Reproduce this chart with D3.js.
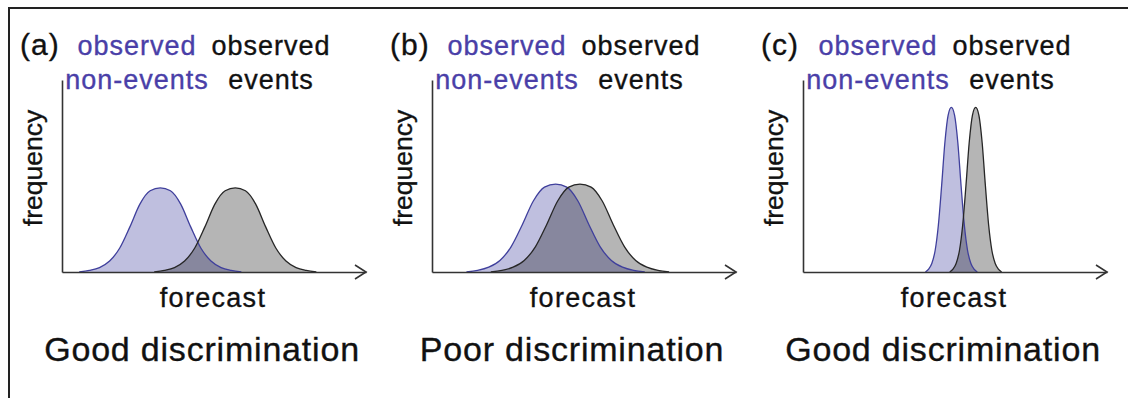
<!DOCTYPE html>
<html>
<head>
<meta charset="utf-8">
<script src="https://cdn.jsdelivr.net/npm/d3@7"></script>
<style>
  body { margin: 0; background: #fff; }
  svg { display: block; }
  text { font-family: "Liberation Sans", Arial, sans-serif; stroke-width: 0.35; }
</style>
</head>
<body>
<div id="chart"></div>
<script>
// panel texts
const panelLabels = ["(a)", "(b)", "(c)"];
const panelTitles = ["Good discrimination", "Poor discrimination", "Good discrimination"];
const nonEventLabel = ["observed", "non-events"];
const eventLabel = ["observed", "events"];
const xLabel = "forecast";
const yLabel = "frequency";

// frequency curves: [forecast, frequency]
const nonEventsA = [[1.7,0],[2.7,0.8],[3.7,2.3],[4.7,5.7],[5.7,12.5],[6.7,23.5],[7.7,35.5],[8.7,42.3],[9.7,43.8],
  [10.7,42.3],[11.7,35.5],[12.7,23.5],[13.7,12.5],[14.7,5.7],[15.7,2.3],[16.7,0.8],[17.7,0]];
const eventsA = [[9.1,0],[10.1,0.8],[11.1,2.3],[12.1,5.7],[13.1,12.5],[14.1,23.5],[15.1,35.5],[16.1,42.3],[17.1,43.8],
  [18.1,42.3],[19.1,35.5],[20.1,23.5],[21.1,12.5],[22.1,5.7],[23.1,2.3],[24.1,0.8],[25.1,0]];
const nonEventsB = [[3.4,0],[4.5,0.8],[5.6,2.5],[6.7,6.0],[7.8,13.1],[8.9,24.5],[10.0,37.0],[11.1,44.2],[12.2,45.8],
  [13.3,44.2],[14.4,37.0],[15.5,24.5],[16.6,13.1],[17.7,6.0],[18.8,2.5],[19.9,0.8],[21.0,0]];
const eventsB = [[5.8,0],[6.9,0.8],[8.0,2.5],[9.1,6.0],[10.2,13.1],[11.3,24.5],[12.4,37.0],[13.5,44.2],[14.6,45.8],
  [15.7,44.2],[16.8,37.0],[17.9,24.5],[19.0,13.1],[20.1,6.0],[21.2,2.5],[22.3,0.8],[23.4,0]];
const nonEventsC = [[12.08,0],[12.40,1.5],[12.72,4.6],[13.04,11.2],[13.36,24.5],[13.68,44.9],[14.00,67.3],[14.32,81.6],[14.64,85.7],
  [14.96,81.6],[15.28,67.3],[15.60,44.9],[15.92,24.5],[16.24,11.2],[16.56,4.6],[16.88,1.5],[17.20,0]];
const eventsC = [[14.48,0],[14.80,1.5],[15.12,4.6],[15.44,11.2],[15.76,24.5],[16.08,44.9],[16.40,67.3],[16.72,81.6],[17.04,85.7],
  [17.36,81.6],[17.68,67.3],[18.00,44.9],[18.32,24.5],[18.64,11.2],[18.96,4.6],[19.28,1.5],[19.60,0]];

const nonEvents = [nonEventsA, nonEventsB, nonEventsC];
const events = [eventsA, eventsB, eventsC];

const width = 1128, height = 398;
const panelX = [62, 432, 803]; // where each y axis sits
const axisTop = 80, axisBase = 272, axisLen = 304;

const blueText = "#4a3fa8";
const darkText = "#111";

const svg = d3.select("#chart").append("svg")
    .attr("width", width)
    .attr("height", height);

// frame round the figure (top and left only are in view)
svg.append("path")
    .attr("d", "M9," + height + "V8H" + width)
    .attr("fill", "none")
    .attr("stroke", "#222")
    .attr("stroke-width", 2);

const x = d3.scaleLinear().domain([0, 30]).range([0, axisLen]);
const y = d3.scaleLinear().domain([0, 100]).range([axisBase - axisTop, 0]);

const area = d3.area()
    .x(d => x(d[0]))
    .y0(y(0))
    .y1(d => y(d[1]))
    .curve(d3.curveMonotoneX);

const line = d3.line()
    .x(d => x(d[0]))
    .y(d => y(d[1]))
    .curve(d3.curveMonotoneX);

panelLabels.forEach(function(label, i) {
    const g = svg.append("g")
        .attr("transform", `translate(${panelX[i]},${axisTop})`);

    // curves: fills first, then outlines
    g.append("path")
        .attr("d", area(nonEvents[i]))
        .attr("fill", "rgba(0,0,128,0.25)");
    g.append("path")
        .attr("d", area(events[i]))
        .attr("fill", "rgba(0,0,0,0.29)");
    g.append("path")
        .attr("d", line(nonEvents[i]))
        .attr("fill", "none")
        .attr("stroke", "#3f3f9c")
        .attr("stroke-width", 1.3);
    g.append("path")
        .attr("d", line(events[i]))
        .attr("fill", "none")
        .attr("stroke", "#262626")
        .attr("stroke-width", 1.3);

    // axes without ticks, just the lines
    const xAxis = g.append("g")
        .attr("transform", `translate(0,${y(0)})`)
        .call(d3.axisBottom(x).tickValues([]).tickSizeOuter(0));
    const yAxis = g.append("g")
        .call(d3.axisLeft(y).tickValues([]).tickSizeOuter(0));
    g.selectAll(".domain")
        .attr("stroke", "#333")
        .attr("stroke-width", 1.6);

    // open arrow head at the end of the forecast axis
    xAxis.append("path")
        .attr("d", `M${axisLen - 11},-7L${axisLen},0L${axisLen - 11},7`)
        .attr("fill", "none")
        .attr("stroke", "#333")
        .attr("stroke-width", 1.6);

    // texts
    g.append("text")
        .attr("x", -42)
        .attr("y", 55 - axisTop)
        .attr("font-size", 30)
        .attr("letter-spacing", 1)
        .attr("fill", darkText)
        .attr("stroke", darkText)
        .text(label);

    [nonEventLabel, eventLabel].forEach(function(lines, k) {
        lines.forEach(function(t, j) {
            g.append("text")
                .attr("x", k == 0 ? 75 : 209)
                .attr("y", (j == 0 ? 54.5 : 89) - axisTop)
                .attr("text-anchor", "middle")
                .attr("font-size", 27)
                .attr("letter-spacing", 1)
                .attr("fill", k == 0 ? blueText : darkText)
                .attr("stroke", k == 0 ? blueText : darkText)
                .text(t);
        });
    });

    g.append("text")
        .attr("transform", `translate(-20,${168 - axisTop}) rotate(-90)`)
        .attr("text-anchor", "middle")
        .attr("font-size", 26.5)
        .attr("fill", darkText)
        .attr("stroke", darkText)
        .text(yLabel);

    g.append("text")
        .attr("x", 151)
        .attr("y", 306.7 - axisTop)
        .attr("text-anchor", "middle")
        .attr("font-size", 27)
        .attr("letter-spacing", 1.3)
        .attr("fill", darkText)
        .attr("stroke", darkText)
        .text(xLabel);

    g.append("text")
        .attr("x", 140)
        .attr("y", 361 - axisTop)
        .attr("text-anchor", "middle")
        .attr("font-size", 34)
        .attr("letter-spacing", 0.8)
        .attr("fill", darkText)
        .attr("stroke", darkText)
        .text(panelTitles[i]);
});
</script>
</body>
</html>
